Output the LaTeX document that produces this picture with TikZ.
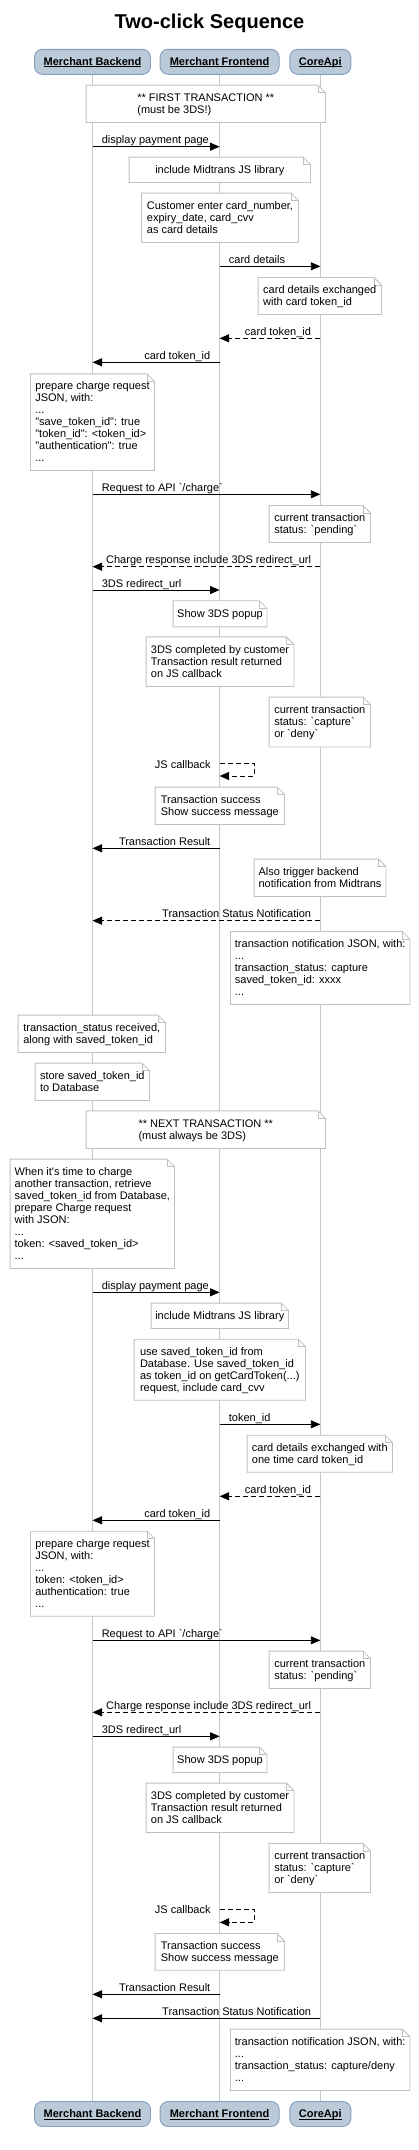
\documentclass[tikz,border=0pt]{standalone}
\usepackage{fontspec}
\usetikzlibrary{arrows.meta}
\newfontfamily\lsans{Liberation Sans}
\newcommand\ulin[1]{\setbox0\hbox{#1}\rlap{\rule[-1.8pt]{\wd0}{0.9pt}}\box0}
\definecolor{partfill}{RGB}{186,202,216}
\definecolor{partdraw}{RGB}{135,157,192}
\definecolor{lifec}{RGB}{200,200,200}
\definecolor{noteline}{RGB}{192,192,192}
\pgfdeclarelayer{life}
\pgfdeclarelayer{notebg}
\pgfsetlayers{life,notebg,main}
\tikzset{
  every node/.style={font=\lsans\fontsize{11}{12}\selectfont},
  part/.style={draw=partdraw, fill=partfill, line width=0.9pt, rounded corners=8pt, minimum height=25pt, inner sep=0pt, text height=8pt, text depth=0.6pt, font=\lsans\bfseries\fontsize{11}{12}\selectfont},
  life/.style={draw=lifec, line width=0.9pt},
  note/.style={align=left, inner sep=0pt},
  notedraw/.style={draw=noteline, fill=white, line width=0.8pt},
  msg/.style={draw=black, line width=0.9pt, -{Triangle[length=9.5pt,width=8pt]}},
  msgd/.style={msg, dash pattern=on 5pt off 3pt},
  lr/.style={anchor=base west, xshift=5.5pt, yshift=2.8pt},
  rl/.style={anchor=base east, xshift=-5.5pt, yshift=2.8pt},
}
\newcommand\notefold[1]{%
  \begin{pgfonlayer}{notebg}
  \draw[notedraw] (#1.north west) -- ([xshift=-7.5pt]#1.north east) -- ([yshift=-7.5pt]#1.north east) -- (#1.south east) -- (#1.south west) -- cycle;
  \draw[notedraw, fill=none] ([xshift=-7.5pt]#1.north east) |- ([yshift=-7.5pt]#1.north east);
  \end{pgfonlayer}}
\newcommand\mknote[6]{\node[note, minimum width=#4pt, minimum height=#5pt] (#1) at (#2,#3) {\rule{0pt}{9.5pt}#6\rule[-2.5pt]{0pt}{0pt}};\notefold{#1}}
\begin{document}
\begin{tikzpicture}[x=1pt,y=-1pt]
\useasboundingbox (0,0) rectangle (419,2150);
\begin{pgfonlayer}{life}
\fill[white] (0,0) rectangle (419,2150);
\end{pgfonlayer}
% title
\node[font=\lsans\bfseries\fontsize{20}{24}\selectfont, anchor=base] (title) at (209.5,28.3) {Two-click Sequence};
% participants
\node[part, minimum width=116pt] (pBt) at (92.5,61.8) {\ulin{Merchant Backend}};
\node[part, minimum width=119pt] (pFt) at (219.6,61.8) {\ulin{Merchant Frontend}};
\node[part, minimum width=61pt] (pCt) at (320.3,61.8) {\ulin{CoreApi}};
\node[part, minimum width=116pt] (pBb) at (92.5,2114) {\ulin{Merchant Backend}};
\node[part, minimum width=119pt] (pFb) at (219.6,2114) {\ulin{Merchant Frontend}};
\node[part, minimum width=61pt] (pCb) at (320.3,2114) {\ulin{CoreApi}};
\begin{pgfonlayer}{life}
\draw[life] (pBt) -- (pBb);
\draw[life] (pFt) -- (pFb);
\draw[life] (pCt) -- (pCb);
\end{pgfonlayer}
% ---------- first transaction ----------
\mknote{n1}{205.8}{103.8}{239}{37}{** FIRST TRANSACTION **\\(must be 3DS!)}
\draw[msg] (pBt |- 0,146.7) -- (pFt |- 0,146.7) node[pos=0, lr] {display payment page};
\mknote{n2}{219.8}{169.8}{181}{25}{include Midtrans JS library}
\mknote{n3}{220}{217.8}{156.6}{49}{Customer enter card\_number,\\expiry\_date, card\_cvv\\as card details}
\draw[msg] (pFt |- 0,266.3) -- (pCt |- 0,266.3) node[pos=0, lr] {card details};
\mknote{n4}{319.8}{296}{123}{36.6}{card details exchanged\\with card token\_id}
\draw[msgd] (pCt |- 0,338.3) -- (pFt |- 0,338.3) node[pos=0, rl] {card token\_id};
\draw[msg] (pFt |- 0,362.3) -- (pBt |- 0,362.3) node[pos=0, rl] {card token\_id};
\mknote{n5}{92.5}{422.2}{123.6}{96.3}{prepare charge request\\JSON, with:\\...\\"save\_token\_id": true\\"token\_id": <token\_id>\\"authentication": true\\...}
\draw[msg] (pBt |- 0,494.3) -- (pCt |- 0,494.3) node[pos=0, lr] {Request to API `/charge`};
\mknote{n6}{319.8}{524}{101}{36.6}{current transaction\\status: `pending`}
\draw[msgd] (pCt |- 0,566.7) -- (pBt |- 0,566.7) node[pos=0, rl] {Charge response include 3DS redirect\_url};
\draw[msg] (pBt |- 0,590) -- (pFt |- 0,590) node[pos=0, lr] {3DS redirect\_url};
\mknote{n7}{220}{613.8}{93.4}{25.7}{Show 3DS popup}
\mknote{n8}{220}{661.7}{147.4}{49.3}{3DS completed by customer\\Transaction result returned\\on JS callback}
\mknote{n9}{319.8}{722}{101}{49.4}{current transaction\\status: `capture`\\or `deny`}
\draw[msgd] (pFt |- 0,763.7) node[anchor=base east, xshift=-5.3pt, yshift=-4.3pt] {JS callback} -- ++(34.4,0) -- ++(0,12.3) -- (pFt |- 0,776);
\mknote{n10}{219.8}{805.8}{129}{37}{Transaction success\\Show success message}
\draw[msg] (pFt |- 0,848.3) -- (pBt |- 0,848.3) node[pos=0, rl] {Transaction Result};
\mknote{n11}{320}{877.8}{131.4}{37}{Also trigger backend\\notification from Midtrans}
\draw[msgd] (pCt |- 0,920.7) -- (pBt |- 0,920.7) node[pos=0, rl] {Transaction Status Notification};
\mknote{n12}{320.2}{968}{179}{72.6}{transaction notification JSON, with:\\...\\transaction\_status: capture\\saved\_token\_id: xxxx\\...}
\mknote{n13}{91.8}{1033.8}{147}{37}{transaction\_status received,\\along with saved\_token\_id}
\mknote{n14}{92.3}{1081.8}{114}{37}{store saved\_token\_id\\to Database}
% ---------- next transaction ----------
\mknote{n15}{205.8}{1129.7}{239}{37.3}{** NEXT TRANSACTION **\\(must always be 3DS)}
\mknote{n16}{92.3}{1213.8}{164}{109}{When it's time to charge\\another transaction, retrieve\\saved\_token\_id from Database,\\prepare Charge request\\with JSON:\\...\\token: <saved\_token\_id>\\...}
\draw[msg] (pBt |- 0,1292.3) -- (pFt |- 0,1292.3) node[pos=0, lr] {display payment page};
\mknote{n17}{219.8}{1315.8}{137}{25}{include Midtrans JS library}
\mknote{n18}{219.8}{1369.7}{171}{60.7}{use saved\_token\_id from\\Database. Use saved\_token\_id\\as token\_id on getCardToken(...)\\request, include card\_cvv}
\draw[msg] (pFt |- 0,1424.3) -- (pCt |- 0,1424.3) node[pos=0, lr] {token\_id};
\mknote{n19}{319.8}{1453.7}{145}{36.7}{card details exchanged with\\one time card token\_id}
\draw[msgd] (pCt |- 0,1496.3) -- (pFt |- 0,1496.3) node[pos=0, rl] {card token\_id};
\draw[msg] (pFt |- 0,1520.3) -- (pBt |- 0,1520.3) node[pos=0, rl] {card token\_id};
\mknote{n20}{92.5}{1573.7}{123.6}{84.7}{prepare charge request\\JSON, with:\\...\\token: <token\_id>\\authentication: true\\...}
\draw[msg] (pBt |- 0,1640.3) -- (pCt |- 0,1640.3) node[pos=0, lr] {Request to API `/charge`};
\mknote{n21}{319.8}{1669.8}{101}{37}{current transaction\\status: `pending`}
\draw[msgd] (pCt |- 0,1712.3) -- (pBt |- 0,1712.3) node[pos=0, rl] {Charge response include 3DS redirect\_url};
\draw[msg] (pBt |- 0,1736.3) -- (pFt |- 0,1736.3) node[pos=0, lr] {3DS redirect\_url};
\mknote{n22}{220}{1759.8}{93.4}{25}{Show 3DS popup}
\mknote{n23}{220}{1807.8}{147.4}{49}{3DS completed by customer\\Transaction result returned\\on JS callback}
\mknote{n24}{319.8}{1868}{101}{48.6}{current transaction\\status: `capture`\\or `deny`}
\draw[msgd] (pFt |- 0,1909.3) node[anchor=base east, xshift=-5.3pt, yshift=-4.3pt] {JS callback} -- ++(34.4,0) -- ++(0,13) -- (pFt |- 0,1922.3);
\mknote{n25}{219.8}{1951.8}{129}{36.3}{Transaction success\\Show success message}
\draw[msg] (pFt |- 0,1994.3) -- (pBt |- 0,1994.3) node[pos=0, rl] {Transaction Result};
\draw[msg] (pCt |- 0,2018.3) -- (pBt |- 0,2018.3) node[pos=0, rl] {Transaction Status Notification};
\mknote{n26}{320.2}{2059.8}{179}{61}{transaction notification JSON, with:\\...\\transaction\_status: capture/deny\\...}
\end{tikzpicture}
\end{document}
